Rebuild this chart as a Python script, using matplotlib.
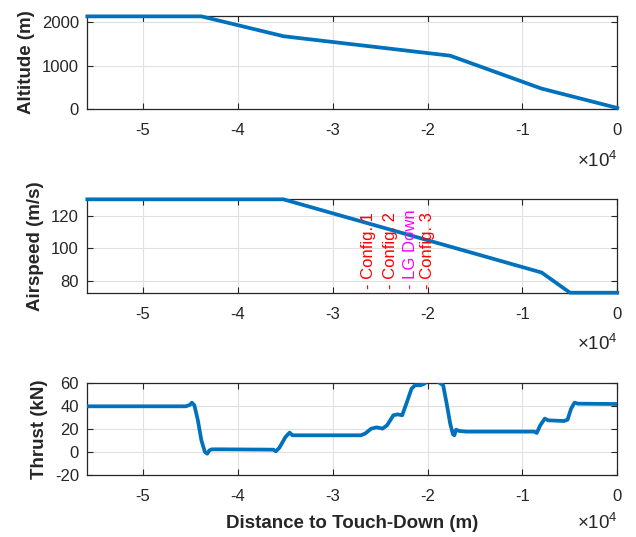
import matplotlib
matplotlib.use('Agg')
import matplotlib.pyplot as plt
from matplotlib.ticker import FuncFormatter

plt.rcParams['font.family'] = ['Liberation Sans', 'DejaVu Sans']
plt.rcParams['axes.unicode_minus'] = False
plt.rcParams['mathtext.fontset'] = 'custom'
plt.rcParams['mathtext.rm'] = 'Liberation Sans'

#### data ####
alt_x = [-55850, -43830, -35150, -17610, -8010, 0]
alt_y = [2134, 2134, 1677, 1231, 477, 30]

spd_x = [-55850, -35190, -7970, -4985, 0]
spd_y = [130, 130, 85, 72.6, 72.6]

thr_x = [-55830, -45490, -45050, -44830, -44570, -44200, -43830, -43460, -43210,
         -42990, -42730, -41800, -36260, -35970, -35600, -34970, -34530, -34230,
         -33680, -27030, -26590, -25920, -25370, -24740, -24260, -23600, -23150,
         -22670, -22230, -21680, -21310, -20750, -20310, -19830, -19280, -18720,
         -18350, -17980, -17610, -17320, -17170, -16990, -16690, -15950, -8750,
         -8490, -8120, -7640, -7270, -5610, -5240, -4870, -4510, -4140, 0]
thr_y = [40.0, 40.0, 41.2, 43.2, 40.9, 27.8, 10.4, 0.3, -1.2,
         1.7, 2.6, 2.6, 2.3, 0.9, 4.1, 13.3, 17.1, 14.8,
         14.8, 14.8, 16.2, 20.6, 21.7, 20.6, 23.5, 32.2, 33.0,
         32.2, 42.3, 55.4, 58.3, 58.3, 59.7, 65.5, 65.5, 60.3,
         58.3, 42.3, 24.9, 15.7, 14.8, 19.7, 18.6, 18.0, 18.0,
         16.8, 23.5, 29.3, 27.8, 27.2, 28.4, 38.0, 43.2, 42.3, 42.0]

cfg_labels = ['- Config. 1', '- Config. 2', '- LG Down', '- Config. 3']
cfg_x = [-26270, -23880, -21840, -20050]
cfg_colors = ['red', 'red', 'magenta', 'red']

blue = '#0072BD'
dark = '#262626'
xmin = -55850

fig = plt.figure(figsize=(6.36, 5.37), dpi=100)
ax1 = fig.add_axes([0.1373, 0.7965, 0.8333, 0.1743])
ax2 = fig.add_axes([0.1373, 0.4549, 0.8333, 0.1739])
ax3 = fig.add_axes([0.1373, 0.1149, 0.8333, 0.1713])


def style(ax, exp_off):
    ax.set_xlim(xmin, 0)
    ax.set_xticks([-50000, -40000, -30000, -20000, -10000, 0])
    ax.xaxis.set_major_formatter(FuncFormatter(lambda v, p: '%g' % (v / 1e4)))
    ax.grid(True, color='#e0e0e0', linewidth=0.8)
    ax.set_axisbelow(True)
    ax.tick_params(direction='in', top=True, right=True, labelsize=12,
                   colors=dark, length=4, pad=6)
    ax.tick_params(axis='x', pad=10)
    for s in ax.spines.values():
        s.set_color(dark)
        s.set_linewidth(0.9)
    # exponent label like MATLAB's x10^4
    ax.annotate(r'$\times$10$^{4}$', xy=(1.0, 0.0), xycoords='axes fraction',
                xytext=(1, -exp_off), textcoords='offset pixels',
                ha='right', va='center', fontsize=13.5, color=dark)


ax1.plot(alt_x, alt_y, color=blue, lw=2.7, clip_on=False, zorder=3)
ax1.set_ylim(0, 2150)
ax1.set_yticks([0, 1000, 2000])
style(ax1, 51)
ax1.set_ylabel('Altitude (m)', fontsize=13.5, fontweight='bold', color=dark, labelpad=5)

ax2.plot(spd_x, spd_y, color=blue, lw=2.7, clip_on=False, zorder=3)
ax2.set_ylim(72.6, 130)
ax2.set_yticks([80, 100, 120])
style(ax2, 51)
ax2.set_ylabel('Airspeed (m/s)', fontsize=13.5, fontweight='bold', color=dark, labelpad=5)
for lab, xx, cc in zip(cfg_labels, cfg_x, cfg_colors):
    ax2.text(xx, 75, lab, rotation=90, color=cc, fontsize=12,
             ha='center', va='bottom')

ax3.plot(thr_x, thr_y, color=blue, lw=2.7, zorder=3)
ax3.set_ylim(-20, 60)
ax3.set_yticks([-20, 0, 20, 40, 60])
style(ax3, 47)
ax3.set_ylabel('Thrust (kN)', fontsize=13.5, fontweight='bold', color=dark, labelpad=5)
ax3.set_xlabel('Distance to Touch-Down (m)', fontsize=13.5, fontweight='bold', color=dark, labelpad=8)

fig.savefig('out.png', dpi=100)
